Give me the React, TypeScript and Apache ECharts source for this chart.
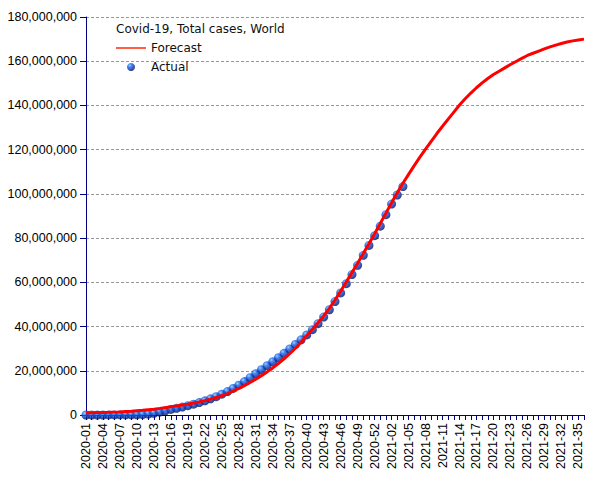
import React, { useEffect, useRef } from "react";
import * as echarts from "echarts";

const weeks: string[] = [
  "2020-01","2020-02","2020-03","2020-04","2020-05","2020-06","2020-07","2020-08","2020-09","2020-10",
  "2020-11","2020-12","2020-13","2020-14","2020-15","2020-16","2020-17","2020-18","2020-19","2020-20",
  "2020-21","2020-22","2020-23","2020-24","2020-25","2020-26","2020-27","2020-28","2020-29","2020-30",
  "2020-31","2020-32","2020-33","2020-34","2020-35","2020-36","2020-37","2020-38","2020-39","2020-40",
  "2020-41","2020-42","2020-43","2020-44","2020-45","2020-46","2020-47","2020-48","2020-49","2020-50",
  "2020-51","2020-52","2020-53","2021-01","2021-02","2021-03","2021-04","2021-05","2021-06","2021-07",
  "2021-08","2021-09","2021-10","2021-11","2021-12","2021-13","2021-14","2021-15","2021-16","2021-17",
  "2021-18","2021-19","2021-20","2021-21","2021-22","2021-23","2021-24","2021-25","2021-26","2021-27",
  "2021-28","2021-29","2021-30","2021-31","2021-32","2021-33","2021-34","2021-35","2021-36"
];

// Total cases, millions
const forecastMillions: number[] = [
  1.0, 1.05, 1.1, 1.15, 1.2, 1.3, 1.4, 1.55, 1.7, 1.9,
  2.1, 2.35, 2.6, 2.9, 3.3, 3.7, 4.1, 4.5, 4.9, 5.4,
  5.9, 6.5, 7.2, 7.9, 8.8, 9.7, 10.8, 12.0, 13.3, 14.7,
  16.2, 17.8, 19.5, 21.3, 23.3, 25.4, 27.7, 30.2, 32.9, 35.8,
  38.8, 41.7, 44.8, 48.2, 52.0, 56.0, 60.2, 64.4, 68.6, 73.0,
  77.5, 82.0, 86.6, 91.3, 96.0, 100.5, 104.8, 108.8, 112.8, 116.6,
  120.2, 123.8, 127.3, 130.6, 133.8, 137.0, 140.2, 143.0, 145.6, 148.0,
  150.2, 152.2, 154.0, 155.5, 157.0, 158.5, 159.9, 161.3, 162.6, 163.6,
  164.6, 165.6, 166.5, 167.3, 168.0, 168.7, 169.2, 169.6, 170.0
];

const actualMillions: number[] = [
  0, 0, 0, 0.002, 0.02, 0.04, 0.07, 0.08, 0.09, 0.11,
  0.17, 0.35, 0.75, 1.3, 1.9, 2.5, 3.0, 3.6, 4.2, 4.9,
  5.6, 6.4, 7.3, 8.3, 9.4, 10.6, 12.0, 13.5, 15.1, 16.9,
  18.7, 20.5, 22.3, 24.1, 25.9, 27.9, 29.9, 31.9, 34.0, 36.2,
  38.6, 41.3, 44.3, 47.6, 51.3, 55.2, 59.4, 63.5, 67.7, 72.2,
  76.7, 81.1, 85.4, 90.6, 95.4, 99.5, 103.3
];

const titleText = "Covid-19, Total cases, World";
const forecastName = "Forecast";
const actualName = "Actual";

const yMax = 180000000;
const yInterval = 20000000;

const axisColor = "#000080";
const makeBall = () =>
  new echarts.graphic.RadialGradient(0.35, 0.3, 0.75, [
    { offset: 0, color: "#8cc8ff" },
    { offset: 0.28, color: "#1a6cf0" },
    { offset: 0.65, color: "#0a35b0" },
    { offset: 1, color: "#000850" },
  ]);

export default function App() {
  const ref = useRef<HTMLDivElement>(null);
  useEffect(() => {
    if (!ref.current) return;
    const chart = echarts.init(ref.current, null, { renderer: "svg" });
    chart.setOption({
      animation: false,
      backgroundColor: "#ffffff",
      title: {
        text: titleText,
        left: 116,
        top: 23,
        padding: 0,
        textStyle: { fontFamily: "DejaVu Sans", fontSize: 12, fontWeight: "normal", color: "#111" },
      },
      legend: {
        orient: "vertical",
        left: 116,
        top: 42,
        padding: 0,
        itemWidth: 30,
        itemHeight: 8,
        itemGap: 7,
        textStyle: { fontFamily: "DejaVu Sans", fontSize: 12, color: "#111", lineHeight: 12 },
        data: [
          { name: forecastName, icon: "path://M0,0H30V1.5H0Z", itemStyle: { color: "#ff2a00" } },
          { name: actualName, icon: "circle", itemStyle: { color: makeBall() } },
        ],
      },
      grid: { left: 86, right: 21, top: 17, bottom: 65, containLabel: false },
      xAxis: {
        type: "category",
        data: weeks,
        boundaryGap: false,
        axisLine: { lineStyle: { color: axisColor, width: 1 } },
        axisTick: { interval: 0, length: 5, lineStyle: { color: axisColor } },
        axisLabel: {
          interval: 2,
          rotate: 90,
          margin: 8,
          fontFamily: "Liberation Sans",
          fontSize: 12.5,
          color: "#000",
        },
        splitLine: { show: false },
      },
      yAxis: {
        type: "value",
        min: 0,
        max: yMax,
        interval: yInterval,
        axisLine: { show: true, lineStyle: { color: axisColor, width: 1 } },
        axisTick: { show: true, length: 6, lineStyle: { color: axisColor } },
        axisLabel: {
          margin: 9,
          fontFamily: "Liberation Sans",
          fontSize: 12.5,
          color: "#000",
          formatter: (v: number) => v.toLocaleString("en-US"),
        },
        splitLine: { show: true, lineStyle: { color: "#999", type: [3, 2], width: 1 } },
      },
      series: [
        {
          name: actualName,
          type: "scatter",
          data: actualMillions.map((v) => v * 1e6),
          symbol: "circle",
          symbolSize: 9,
          itemStyle: { color: makeBall() },
          z: 2,
        },
        {
          name: forecastName,
          type: "line",
          data: forecastMillions.map((v) => v * 1e6),
          symbol: "none",
          lineStyle: { color: "#ff0000", width: 3 },
          itemStyle: { color: "#ff0000" },
          z: 3,
        },
      ],
    });
    return () => chart.dispose();
  }, []);
  return (
    <div
      ref={ref}
      style={{ position: "fixed", left: 0, top: 0, width: 605, height: 480, background: "#fff" }}
    />
  );
}
